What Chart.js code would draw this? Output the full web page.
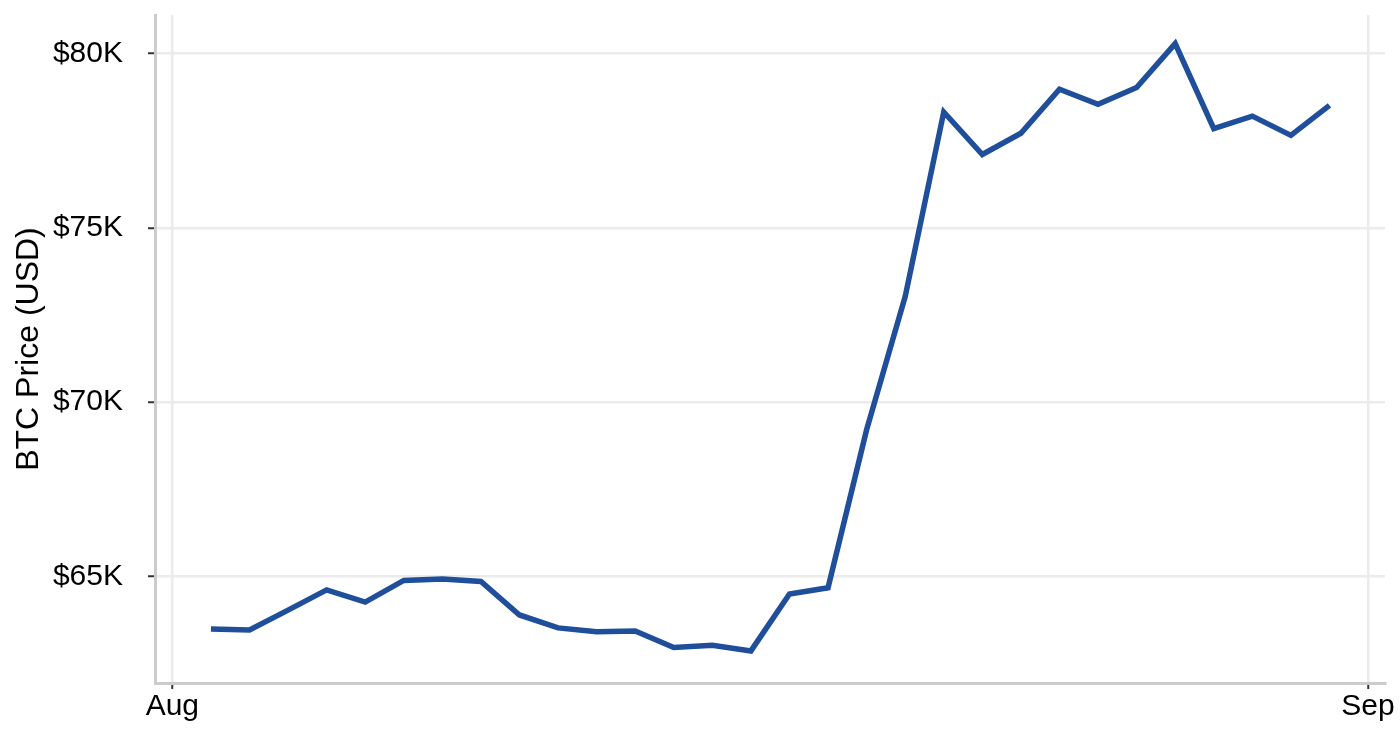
<!DOCTYPE html>
<html>
<head>
<meta charset="utf-8">
<script src="https://cdn.jsdelivr.net/npm/chart.js@4.4.1/dist/chart.umd.min.js"></script>
<style>
  html, body { margin: 0; padding: 0; background: #fff; }
  #wrap { width: 1400px; height: 740px; position: relative; }
</style>
</head>
<body>
<div id="wrap"><canvas id="price-chart"></canvas></div>
<script>
// day of August for each close (Sep 1 = 32)
const days = [2, 3, 4, 5, 6, 7, 8, 9, 10, 11, 12, 13, 14, 15, 16,
              17, 18, 19, 20, 21, 22, 23, 24, 25, 26, 27, 28, 29, 30, 31];
const prices = [63500, 63470, 64040, 64620, 64270, 64890, 64930, 64860, 63900, 63530,
                63420, 63440, 62970, 63030, 62870, 64500, 64680, 69210, 73030, 78320,
                77100, 77710, 78970, 78540, 79020, 80280, 77840, 78200, 77650, 78510];
const monthTicks = [1, 32];
const monthLabels = ['Aug', 'Sep'];
const priceTicks = [65000, 70000, 75000, 80000];

const font = "'Liberation Sans', Arial, Helvetica, sans-serif";

let ctx = document.getElementById('price-chart');
let priceChart = new Chart(ctx, {
    type: 'line',
    data: {
        datasets: [
            {
                data: days.map((d, i) => ({ x: d, y: prices[i] })),
                borderColor: '#1f4e9a',
                borderWidth: 5.5,
                pointRadius: 0,
                tension: 0,
                fill: false
            }
        ]
    },
    options: {
        responsive: true,
        maintainAspectRatio: false,
        animation: false,
        devicePixelRatio: 1,
        layout: {
            padding: { top: 15, right: 15, left: 0, bottom: 0 }
        },
        plugins: {
            legend: { display: false },
            tooltip: { enabled: false }
        },
        scales: {
            x: {
                type: 'linear',
                min: 0.55,
                max: 32.44,
                afterBuildTicks: (scale) => {
                    scale.ticks = monthTicks.map(v => ({ value: v }));
                },
                afterFit: (scale) => {
                    scale.height = 57;
                    scale.paddingLeft = 0;
                    scale.paddingRight = 0;
                },
                ticks: {
                    callback: (v) => monthLabels[monthTicks.indexOf(v)],
                    color: '#000',
                    padding: 0,
                    maxRotation: 0,
                    autoSkip: false,
                    font: { family: font, size: 30 }
                },
                grid: {
                    color: '#ebebeb',
                    lineWidth: 2.5,
                    tickColor: '#333',
                    tickLength: 6,
                    tickWidth: 2
                },
                border: { color: '#cccccc', width: 3 }
            },
            y: {
                min: 61950,
                max: 81100,
                afterBuildTicks: (scale) => {
                    scale.ticks = priceTicks.map(v => ({ value: v }));
                },
                afterFit: (scale) => {
                    scale.width = 155;
                    scale.paddingTop = 0;
                    scale.paddingBottom = 0;
                },
                ticks: {
                    callback: (v) => '$' + (v / 1000) + 'K',
                    color: '#000',
                    padding: 25,
                    font: { family: font, size: 30 }
                },
                grid: {
                    color: '#ebebeb',
                    lineWidth: 2.5,
                    tickColor: '#333',
                    tickLength: 7,
                    tickWidth: 2
                },
                border: { color: '#cccccc', width: 3 },
                title: {
                    display: true,
                    text: 'BTC Price (USD)',
                    color: '#000',
                    padding: { top: 10, bottom: 0 },
                    font: { family: font, size: 32 }
                }
            }
        }
    }
});
</script>
</body>
</html>
